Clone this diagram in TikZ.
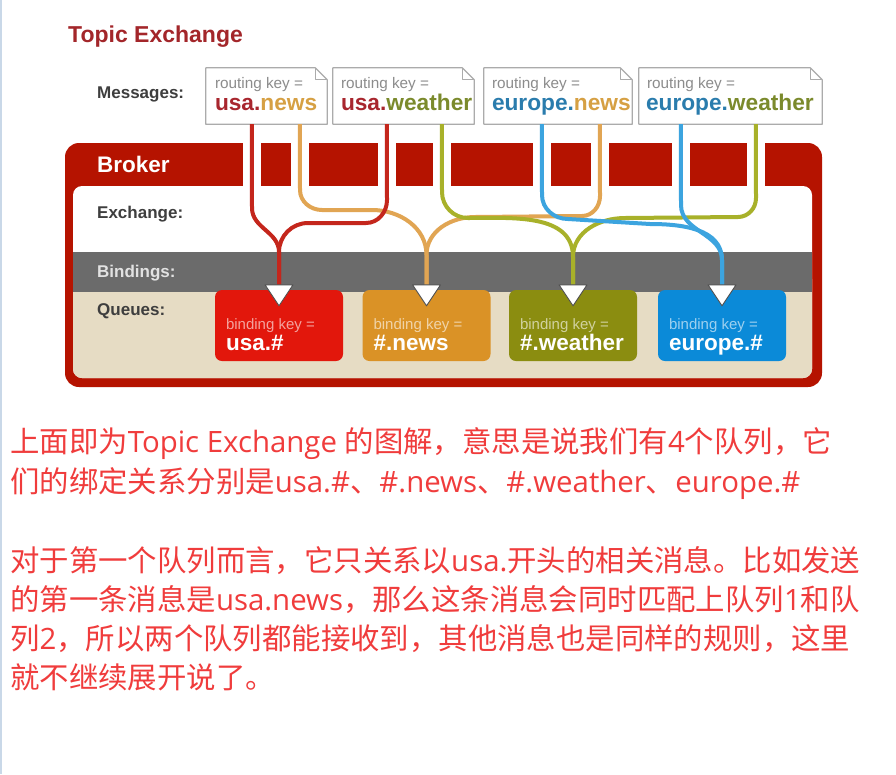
\documentclass[tikz,border=0pt]{standalone}
\usepackage{fontspec}
\setmainfont{Liberation Sans}
\newfontfamily\cjk{Noto Sans CJK SC}
\newfontfamily\latn{Open Sans}
\usetikzlibrary{calc}
\definecolor{titlered}{HTML}{A3262A}
\definecolor{labelink}{HTML}{3E3E3E}
\definecolor{msgedge}{HTML}{ABABAB}
\definecolor{rkgray}{HTML}{8C8C8C}
\definecolor{keyred}{HTML}{A8262E}
\definecolor{keyorange}{HTML}{D6A043}
\definecolor{keyolive}{HTML}{7B8A2C}
\definecolor{keyblue}{HTML}{2A7CAD}
\definecolor{brokerred}{HTML}{B51300}
\definecolor{bindgray}{HTML}{6B6B6B}
\definecolor{bindtext}{HTML}{E2E2E2}
\definecolor{queuebg}{HTML}{E6DCC4}
\definecolor{qred}{HTML}{E2170C}
\definecolor{qorange}{HTML}{DA9226}
\definecolor{qolive}{HTML}{8B8D10}
\definecolor{qblue}{HTML}{0B8AD8}
\definecolor{lred}{HTML}{C4261C}
\definecolor{lorange}{HTML}{E1A553}
\definecolor{lolive}{HTML}{A8B12A}
\definecolor{lblue}{HTML}{3CA4DF}
\definecolor{triedge}{HTML}{505050}
\definecolor{notered}{HTML}{F03C3C}
\definecolor{pageedge}{HTML}{C9D8E8}

% outline of a message with its folded corner
\newcommand{\foldbox}[1]{%
  \path[msgline] (#1.south west) -- (#1.north west) -- ([xshift=-12pt]#1.north east)
    -- ([yshift=-12pt]#1.north east) -- (#1.south east) -- cycle;
  \draw[msgline, fill=none] ([xshift=-12pt]#1.north east) -- ([xshift=-12pt,yshift=-12pt]#1.north east)
    -- ([yshift=-12pt]#1.north east);}
% latin words inside the chinese lines
\newcommand{\lt}[1]{{\latn #1}}

\begin{document}
\begin{tikzpicture}[
  x=1pt, y=-1pt,
  heading/.style={anchor=base west, inner sep=0pt, font=\bfseries\fontsize{23}{27}\selectfont, text=titlered},
  lbl/.style={anchor=base west, inner sep=0pt, font=\bfseries\fontsize{17}{20}\selectfont, text=labelink},
  msgbox/.style={minimum height=56pt, inner sep=0pt},
  msgline/.style={draw=msgedge, line width=1.2pt, fill=white, line join=round},
  rkey/.style={anchor=base west, inner sep=0pt, font=\fontsize{15.3}{18}\selectfont, text=rkgray},
  mkey/.style={anchor=base west, inner sep=0pt, font=\bfseries\fontsize{22.7}{26}\selectfont},
  queue/.style={minimum width=128pt, minimum height=71pt, rounded corners=7pt, inner sep=0pt},
  bkey/.style={anchor=base west, inner sep=0pt, font=\fontsize{15}{18}\selectfont, text=white, text opacity=0.6},
  qkey/.style={anchor=base west, inner sep=0pt, font=\bfseries\fontsize{22.5}{26}\selectfont, text=white},
  route/.style={line width=4pt},
  tri/.style={draw=triedge, fill=white, line width=0.9pt, line join=round},
  note/.style={anchor=base west, inner sep=0pt, font=\cjk\fontsize{29.4}{36}\selectfont, text=notered},
]
\useasboundingbox (0,0) rectangle (896,774);
\fill[white] (0,0) rectangle (896,774);
\draw[pageedge, line width=2pt] (1,0) -- (1,774);

% ---- title and messages ----
\node[heading] (title) at (68,42) {Topic Exchange};
\node[lbl] (msgs) at (97,98) {Messages:};

\node[msgbox, minimum width=121pt] (m1) at (266.5,96) {};
\node[msgbox, minimum width=141pt] (m2) at (403.5,96) {};
\node[msgbox, minimum width=148pt] (m3) at (558,96) {};
\node[msgbox, minimum width=183pt] (m4) at (730.5,96) {};
\foldbox{m1}
\foldbox{m2}
\foldbox{m3}
\foldbox{m4}

\node[rkey] (rk1) at ($(m1.north west)+(9,21)$) {routing key =};
\node[rkey] (rk2) at ($(m2.north west)+(8,21)$) {routing key =};
\node[rkey] (rk3) at ($(m3.north west)+(8,21)$) {routing key =};
\node[rkey] (rk4) at ($(m4.north west)+(8,21)$) {routing key =};
\node[mkey] (k1) at ($(m1.north west)+(9,43)$) {\textcolor{keyred}{usa.}\textcolor{keyorange}{news}};
\node[mkey] (k2) at ($(m2.north west)+(8,43)$) {\textcolor{keyred}{usa.}\textcolor{keyolive}{weather}};
\node[mkey] (k3) at ($(m3.north west)+(8,43)$) {\textcolor{keyblue}{europe.}\textcolor{keyorange}{news}};
\node[mkey] (k4) at ($(m4.north west)+(7,43)$) {\textcolor{keyblue}{europe.}\textcolor{keyolive}{weather}};

% ---- broker frame ----
\fill[brokerred, rounded corners=14pt] (65,143) rectangle (822,387);
\fill[white, rounded corners=9pt] (73,186) rectangle (812,378);
\fill[queuebg, rounded corners=9pt] (73,270) rectangle (812,378);
\fill[bindgray] (73,252) rectangle (812,292);
% openings in the header band where the routes pass
\foreach \gx in {252,300,387,442,542,600,681,756}{
  \fill[white] (\gx-9,140) rectangle (\gx+9,187);
}

\node[lbl, text=white, font=\bfseries\fontsize{22.5}{26}\selectfont] (broker) at (97,172) {Broker};
\node[lbl] (exch) at (97,218) {Exchange:};
\node[lbl, text=bindtext] (bind) at (97,277) {Bindings:};
\node[lbl] (queues) at (97,315) {Queues:};

% ---- queues ----
\node[queue, fill=qred]    (q1) at (279,325.5) {};
\node[queue, fill=qorange] (q2) at (426.5,325.5) {};
\node[queue, fill=qolive]  (q3) at (573,325.5) {};
\node[queue, fill=qblue]   (q4) at (722,325.5) {};

\node[bkey] (b1) at ($(q1.north west)+(11,40)$) {binding key =};
\node[bkey] (b2) at ($(q2.north west)+(11,40)$) {binding key =};
\node[bkey] (b3) at ($(q3.north west)+(11,40)$) {binding key =};
\node[bkey] (b4) at ($(q4.north west)+(11,40)$) {binding key =};
\node[qkey] (qk1) at ($(q1.north west)+(11,61)$) {usa.\#};
\node[qkey] (qk2) at ($(q2.north west)+(11,61)$) {\#.news};
\node[qkey] (qk3) at ($(q3.north west)+(11,61)$) {\#.weather};
\node[qkey] (qk4) at ($(q4.north west)+(11,61)$) {europe.\#};

% ---- routes ----
\draw[route, lorange] ($(m1.south west)+(94,0)$) -- (300,190) to[out=-90,in=180] (322,210)
  -- (372,210) to[out=0,in=90] (426.5,255) -- (q2.north);
\draw[route, lorange] ($(m3.south west)+(116,0)$) -- (600,196) to[out=-90,in=0] (582,216)
  -- (475,217) to[out=180,in=90] (426.5,255) -- (q2.north);
\draw[route, lred] ($(m1.south west)+(46,0)$) -- (252,208) to[out=-90,in=90] (279,252) -- (q1.north);
\draw[route, lred] ($(m2.south west)+(54,0)$) -- (387,200) to[out=-90,in=0] (366,223)
  -- (308,223) to[out=180,in=90] (279,252) -- (q1.north);
\draw[route, lolive] ($(m2.south west)+(109,0)$) -- (442,192) to[out=-90,in=180] (468,218)
  to[out=0,in=90] (573,257) -- (q3.north);
\draw[route, lolive] ($(m4.south west)+(117,0)$) -- (756,198) to[out=-90,in=0] (738,217)
  -- (625,218) to[out=180,in=90] (573,257) -- (q3.north);
\draw[route, lblue] ($(m3.south west)+(58,0)$) -- (542,195) to[out=-90,in=180] (568,219)
  -- (650,224) to[out=0,in=90] (722,260) -- (q4.north);
\draw[route, lblue] ($(m4.south west)+(42,0)$) -- (681,205) to[out=-90,in=90] (722,260) -- (q4.north);

% ---- binding arrows ----
\draw[tri] ($(q1.north)+(-14,-5)$) -- ++(28,0) -- ++(-14,21) -- cycle;
\draw[tri] ($(q2.north)+(-14,-5)$) -- ++(28,0) -- ++(-14,21) -- cycle;
\draw[tri] ($(q3.north)+(-14,-5)$) -- ++(28,0) -- ++(-14,21) -- cycle;
\draw[tri] ($(q4.north)+(-14,-5)$) -- ++(28,0) -- ++(-14,21) -- cycle;

% ---- explanation ----
\node[note] (p1) at (10,452) {上面即为\lt{Topic Exchange }的图解，意思是说我们有\lt{4}个队列，它};
\node[note] (p2) at (10,492) {们的绑定关系分别是\lt{usa.\#}、\lt{\#.news}、\lt{\#.weather}、\lt{europe.\#}};
\node[note] (p3) at (10,571) {对于第一个队列而言，它只关系以\lt{usa.}开头的相关消息。比如发送};
\node[note] (p4) at (10,610) {的第一条消息是\lt{usa.news}，那么这条消息会同时匹配上队列\lt{1}和队};
\node[note] (p5) at (10,649) {列\lt{2}，所以两个队列都能接收到，其他消息也是同样的规则，这里};
\node[note] (p6) at (10,688) {就不继续展开说了。};

\end{tikzpicture}
\end{document}
